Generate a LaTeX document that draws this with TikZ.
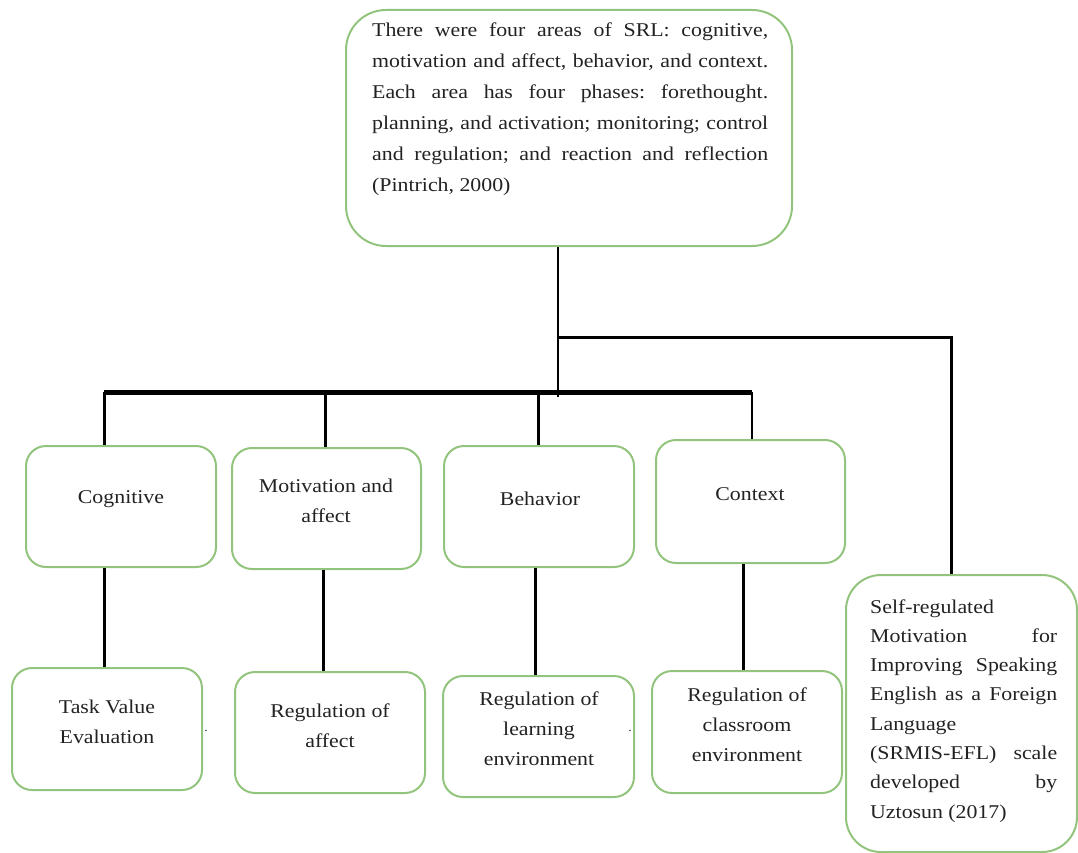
\documentclass[tikz,border=0pt]{standalone}
\usepackage{fontspec}
\setmainfont{Liberation Serif}[FakeStretch=1.12]
\definecolor{boxgreen}{HTML}{93C47D}
\definecolor{txtc}{HTML}{222222}
\frenchspacing
\begin{document}
\begin{tikzpicture}[x=1pt,y=-1pt,
  box/.style={draw=boxgreen, line width=2pt, rounded corners=20pt, inner sep=0pt},
  lbl/.style={font=\fontsize{19.5}{30}\selectfont, align=center, text=txtc, inner sep=0pt},
  para/.style={anchor=base west, inner sep=0pt, text=txtc},
  drop/.style={line width=3pt, black},
  thin/.style={line width=1.6pt, black},
  barline/.style={line width=5pt, black},
  link/.style={line width=3pt, black}]
\useasboundingbox (0,0) rectangle (1078,853);

% boxes
\node[box, rounded corners=40pt, minimum width=446pt, minimum height=236pt] (top) at (569,128) {};
\node[box, minimum width=190pt, minimum height=121pt] (cog) at (121,506.5) {};
\node[box, minimum width=189pt, minimum height=121pt] (mot) at (326.5,508.5) {};
\node[box, minimum width=190pt, minimum height=121pt] (beh) at (539,506.5) {};
\node[box, minimum width=189pt, minimum height=123pt] (ctx) at (750.5,501.5) {};
\node[box, minimum width=190pt, minimum height=122pt] (task) at (107,729) {};
\node[box, minimum width=190pt, minimum height=121pt] (rega) at (330,732.5) {};
\node[box, minimum width=191pt, minimum height=121pt] (regl) at (538.5,736.5) {};
\node[box, minimum width=190pt, minimum height=122pt] (regc) at (747,732) {};
\node[box, rounded corners=35pt, minimum width=231pt, minimum height=277pt] (right) at (961.5,713.5) {};

% texts
\node[para] (toptext) at (372,37) {\parbox[t]{396pt}{\fontsize{19.5}{31}\selectfont%
\makebox[396pt][s]{There were four areas of SRL: cognitive,}\\
\makebox[396pt][s]{motivation and affect, behavior, and context.}\\
\makebox[396pt][s]{Each area has four phases: forethought.}\\
\makebox[396pt][s]{planning, and activation; monitoring; control}\\
\makebox[396pt][s]{and regulation; and reaction and reflection}\\
(Pintrich, 2000)}};

\node[para] (righttext) at (870,613) {\parbox[t]{187pt}{\fontsize{19.5}{29.3}\selectfont%
Self-regulated\\
\makebox[187pt][s]{Motivation for}\\
\makebox[187pt][s]{Improving Speaking}\\
\makebox[187pt][s]{English as a Foreign}\\
Language\\
\makebox[187pt][s]{(SRMIS-EFL) scale}\\
\makebox[187pt][s]{developed by}\\
Uztosun (2017)}};

\node[lbl] (cogt) at (121,499) {Cognitive};
\node[lbl] (mott) at (326,501) {Motivation and\\affect};
\node[lbl] (beht) at (540,499) {Behavior};
\node[lbl] (ctxt) at (750,494) {Context};
\node[lbl] (taskt) at (107,721.5) {Task Value\\Evaluation};
\node[lbl] (regat) at (330,726) {Regulation of\\affect};
\node[lbl] (reglt) at (539,729) {Regulation of\\learning\\environment};
\node[lbl] (regct) at (747,724.5) {Regulation of\\classroom\\environment};

\node[lbl, font=\fontsize{12}{12}\selectfont] (dot1) at (206,731) {.};
\node[lbl, font=\fontsize{12}{12}\selectfont] (dot2) at (630,731) {.};

% connector points
\coordinate (j) at (558,397);
\coordinate (h) at (558,337);
\coordinate (h2) at (951,337);
\coordinate (b1) at (104,392);
\coordinate (b2) at (325,392);
\coordinate (b3) at (538,392);
\coordinate (b4) at (752,392);
\coordinate (l1) at (104,600);
\coordinate (l2) at (323,600);
\coordinate (l3) at (535,600);
\coordinate (l4) at (743,600);

% connectors
\draw[thin] (top.south -| j) -- (j);
\draw[link] (h) -- (h2) -- (right.north -| h2);
\draw[barline] (b1) -- (b4);
\draw[drop] (b1) -- (cog.north -| b1);
\draw[drop] (b2) -- (mot.north -| b2);
\draw[drop] (b3) -- (beh.north -| b3);
\draw[thin] (b4) -- (ctx.north -| b4);
\draw[drop] (cog.south -| l1) -- (task.north -| l1);
\draw[drop] (mot.south -| l2) -- (rega.north -| l2);
\draw[drop] (beh.south -| l3) -- (regl.north -| l3);
\draw[drop] (ctx.south -| l4) -- (regc.north -| l4);
\end{tikzpicture}
\end{document}
